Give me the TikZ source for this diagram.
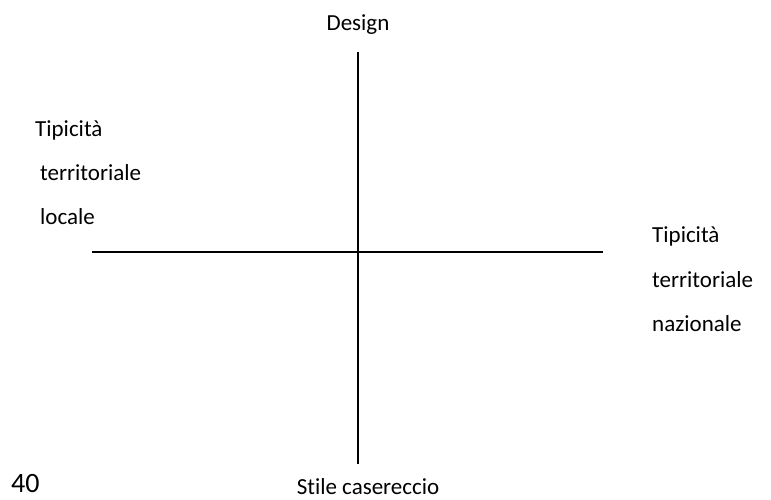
\documentclass[tikz,border=0pt]{standalone}
\usepackage{fontspec}
\setmainfont[Ligatures=NoCommon]{Carlito}
\usetikzlibrary{positioning}

\begin{document}
\begin{tikzpicture}[
    x=1pt,y=-1pt,
    label/.style={anchor=base west, inner sep=0pt, font=\fontsize{23}{27}\selectfont},
    pole/.style={label, anchor=base},
    axis/.style={line width=1.4pt}
  ]
    \useasboundingbox (0,0) rectangle (771,499);

    % axes
    \coordinate (top) at (358,52);
    \coordinate (bottom) at (358,464);
    \coordinate (left) at (92,252);
    \coordinate (right) at (603,252);
    \draw[axis] (top) -- (bottom);
    \draw[axis] (left) -- (right);

    % poles
    \node[pole] (design) at (358,30) {Design};
    \node[pole] (homemade) at (368,494) {Stile casereccio};

    \node[label] (localA) at (35,136) {Tipicità};
    \node[label] (localB) at (40,180) {territoriale};
    \node[label] (localC) at (40,224) {locale};

    \node[label] (natA) at (652,242) {Tipicità};
    \node[label] (natB) at (652,287) {territoriale};
    \node[label] (natC) at (652,331) {nazionale};

    \node[label, font=\fontsize{28}{32}\selectfont] (page) at (11,492) {40};
  \end{tikzpicture}
\end{document}
